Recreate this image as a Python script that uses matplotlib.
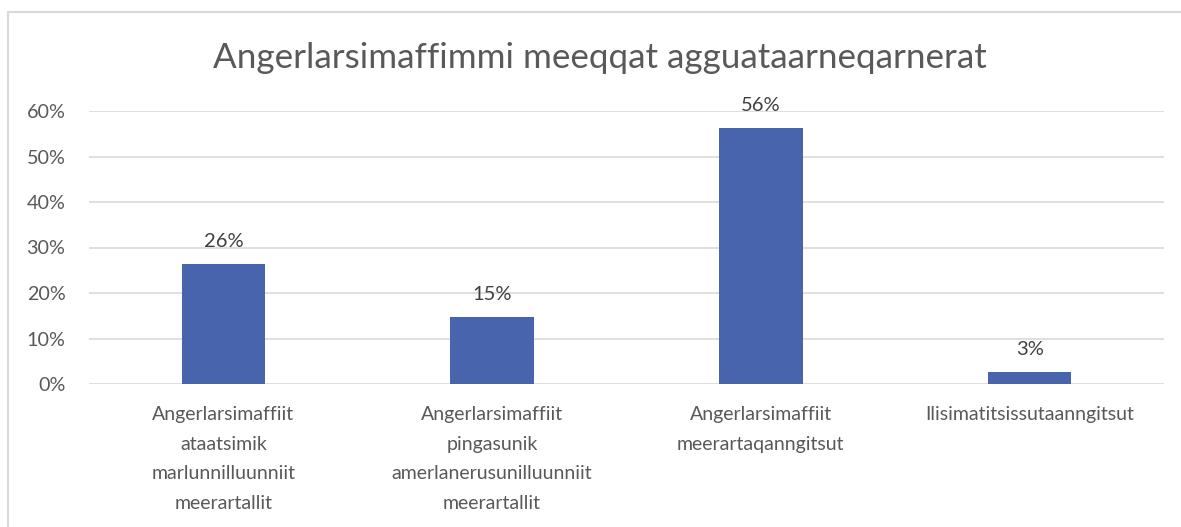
import matplotlib.pyplot as plt
from matplotlib.patches import Rectangle
from matplotlib.ticker import PercentFormatter

plt.rcParams['font.family'] = ['Lato', 'DejaVu Sans']

# data
title = 'Angerlarsimaffimmi meeqqat agguataarneqarnerat'
categories = [
    'Angerlarsimaffiit\nataatsimik\nmarlunnilluunniit\nmeerartallit',
    'Angerlarsimaffiit\npingasunik\namerlanerusunilluunniit\nmeerartallit',
    'Angerlarsimaffiit\nmeerartaqanngitsut',
    'Ilisimatitsissutaanngitsut',
]
values = [0.264, 0.147, 0.563, 0.026]
yticks = [0, 0.1, 0.2, 0.3, 0.4, 0.5, 0.6]

W, H = 1181, 527
fig = plt.figure(figsize=(W / 100, H / 100), dpi=100)

# chart frame (only left and top edges are visible in the crop)
frame = Rectangle((8 / W, -0.2), 1.2, 1.2 - 12 / H, transform=fig.transFigure,
                  fill=False, edgecolor='#D9D9D9', linewidth=1.5)
fig.patches.append(frame)

ax = fig.add_axes([89 / W, 1 - 384 / H, (1164 - 89) / W, (384 - 111) / H])

x = range(len(categories))
ax.bar(x, values, width=0.31, color='#4864AC', zorder=3)

for xi, v in zip(x, values):
    ax.annotate(f'{round(v * 100):.0f}%', (xi, v), xytext=(0, 10), textcoords='offset points',
                ha='center', va='bottom', fontsize=14.5, color='#404040')

ax.set_xlim(-0.5, len(categories) - 0.5)
ax.set_ylim(0, 0.6)
ax.set_yticks(yticks)
ax.yaxis.set_major_formatter(PercentFormatter(1.0, decimals=0))
ax.set_xticks(list(x))
ax.set_xticklabels(categories, linespacing=1.9)

ax.grid(axis='y', color='#D9D9D9', linewidth=1.2, zorder=0)
for s in ax.spines.values():
    s.set_visible(False)
ax.tick_params(axis='both', length=0, labelcolor='#595959')
ax.tick_params(axis='y', pad=17, labelsize=14.2)
ax.tick_params(axis='x', pad=16, labelsize=14)

fig.text(600 / W, 1 - 58 / H, title, ha='center', va='center', fontsize=25.2, color='#595959')

fig.savefig('out.png', dpi=100)
